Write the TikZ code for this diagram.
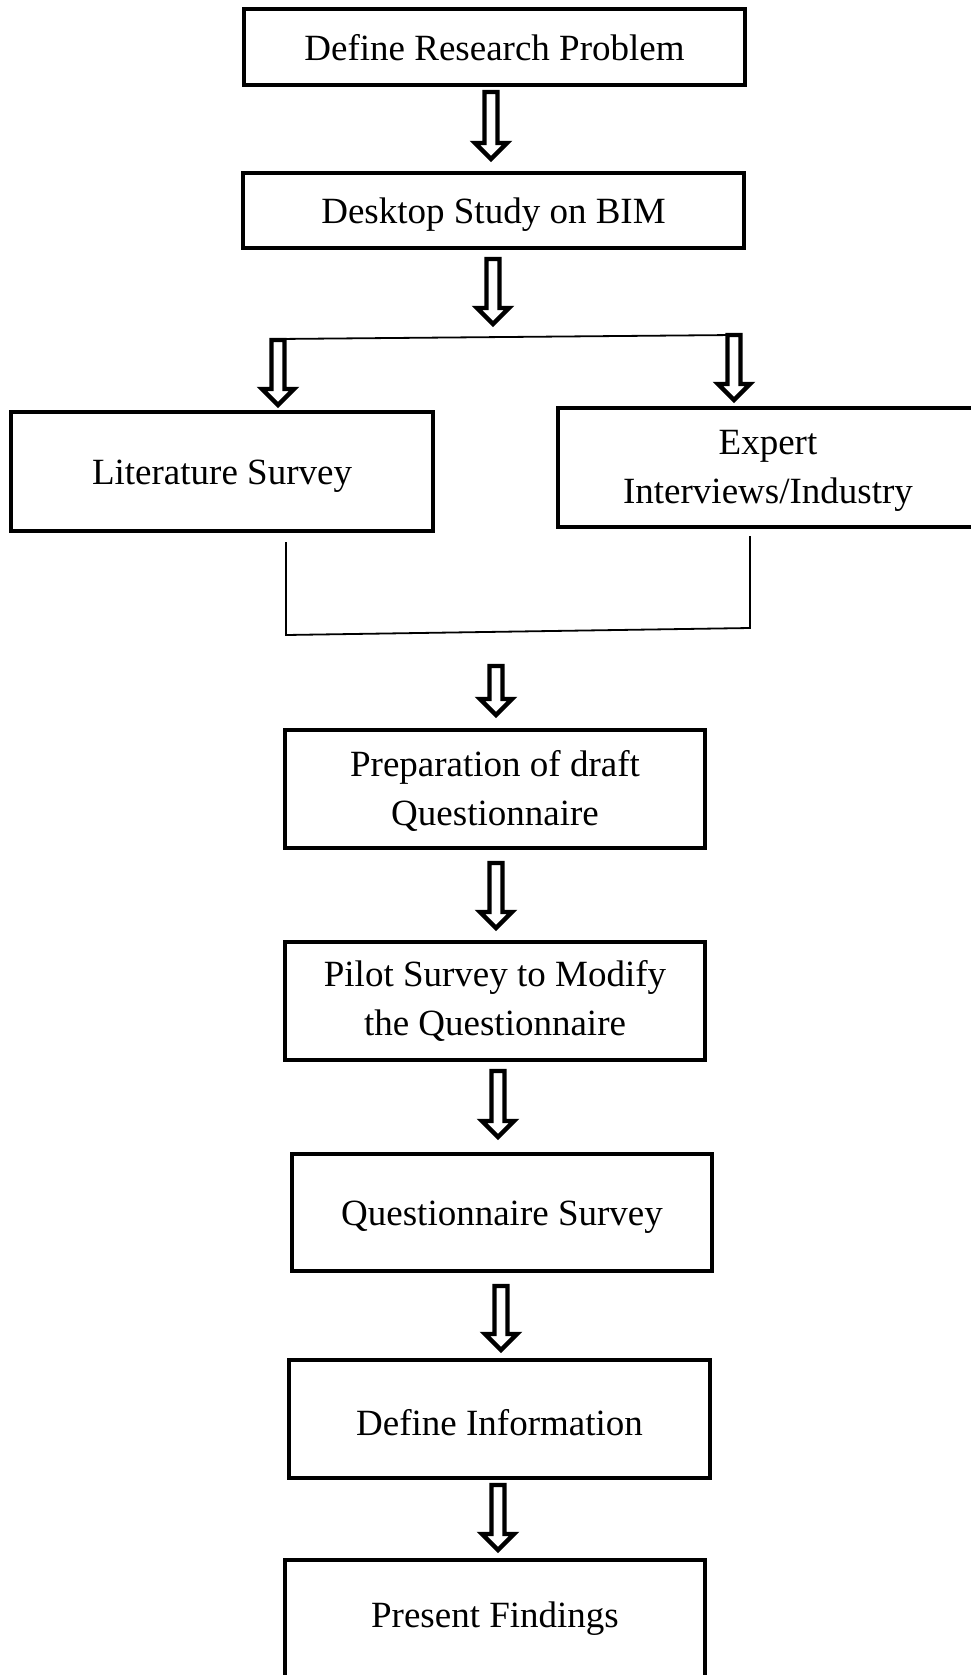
\documentclass[tikz,border=0pt]{standalone}
\usepackage{fontspec}
\setmainfont{Liberation Serif}
\usetikzlibrary{calc}
\tikzset{
  box/.style={draw, line width=4pt, rectangle, inner sep=0pt, outer sep=0pt,
    fill=white, font=\fontsize{37}{49}\selectfont, text height=25pt, text depth=0pt},
  twoline/.style={align=center, text height=72pt, text depth=0pt},
  harrowline/.style={draw, fill=white, line width=4.4pt, line join=miter},
  joinline/.style={draw, line width=1.8pt},
}
\newcommand\hollowarrow[2]{%
  \path[harrowline] let \p1=(#1), \p2=(#2) in
    (\x1-6.5pt,\y1) -- (\x1-6.5pt,\y2+16pt) -- (\x1-16pt,\y2+16pt) --
    (\x1,\y2) -- (\x1+16pt,\y2+16pt) -- (\x1+6.5pt,\y2+16pt) --
    (\x1+6.5pt,\y1) -- cycle;}
\begin{document}
\begin{tikzpicture}[x=1pt,y=-1pt]
\useasboundingbox (0,0) rectangle (971,1675);
\clip (0,0) rectangle (971,1675);

\node[box, minimum width=501pt, minimum height=76pt, text height=28pt] (b1) at (494.5,47) {Define Research Problem};
\node[box, minimum width=501pt, minimum height=75pt] (b2) at (493.5,210.5) {Desktop Study on BIM};
\node[box, minimum width=422pt, minimum height=119pt] (b3) at (222,471.5) {Literature Survey};
\node[box, twoline, minimum width=420pt, minimum height=119pt] (b4) at (768,467.5) {Expert\\Interviews/Industry};
\node[box, twoline, minimum width=420pt, minimum height=118pt] (b5) at (495,789) {Preparation of draft\\Questionnaire};
\node[box, twoline, text height=68pt, minimum width=420pt, minimum height=118pt] (b6) at (495,1001) {Pilot Survey to Modify\\the Questionnaire};
\node[box, minimum width=420pt, minimum height=117pt] (b7) at (502,1212.5) {Questionnaire Survey};
\node[box, minimum width=421pt, minimum height=118pt, text height=32pt] (b8) at (499.5,1419) {Define Information};
\node[box, minimum width=420pt, minimum height=124pt, text depth=15pt] (b9) at (495,1622) {Present Findings};

\coordinate (jl) at (278,339);
\coordinate (jr) at (734,335);
\coordinate (jt) at (493,337);
\coordinate (ml) at (286,635);
\coordinate (mr) at (750,628);
\coordinate (mj) at (496,632);

\draw[joinline] (jl) -- (jr);
\draw[joinline] ($(b3.south)+(64,11)$) -- (ml) -- (mr) -- ($(b4.south)+(-18,9)$);

\hollowarrow{$(b1.south)+(-3.5,7)$}{$(b2.north)+(0,-14)$}
\hollowarrow{$(b2.south)+(-0.5,11)$}{$(jt)+(0,-13)$}
\hollowarrow{$(jl)+(0,1)$}{$(b3.north)+(0,-7)$}
\hollowarrow{$(jr)+(0,0)$}{$(b4.north)+(0,-8)$}
\hollowarrow{$(mj)+(0,34)$}{$(b5.north)+(0,-15)$}
\hollowarrow{$(b5.south)+(1,15)$}{$(b6.north)+(0,-14)$}
\hollowarrow{$(b6.south)+(3,11)$}{$(b7.north)+(0,-17)$}
\hollowarrow{$(b7.south)+(-1,15)$}{$(b8.north)+(0,-10)$}
\hollowarrow{$(b8.south)+(-1.5,7)$}{$(b9.north)+(0,-10)$}
\end{tikzpicture}
\end{document}
